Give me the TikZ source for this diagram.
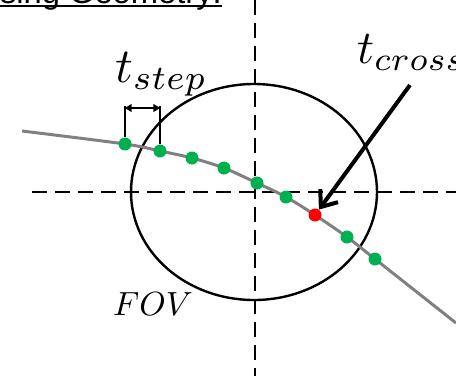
\documentclass[tikz,border=0pt]{standalone}
\usepackage{fontspec}
\setsansfont{Liberation Sans}
\usetikzlibrary{arrows.meta}
\definecolor{dotgreen}{HTML}{00B050}
\definecolor{dotred}{HTML}{FF0000}
\definecolor{pathgray}{HTML}{808080}

\begin{document}
\begin{tikzpicture}[
  x=1pt,
  y=-1pt,
  axis/.style={black, line width=2.6pt, dash pattern=on 15pt off 8pt},
  sample/.style={circle, fill=dotgreen, inner sep=0pt, minimum size=13pt},
  crossing/.style={sample, fill=dotred},
  bracket/.style={black, line width=2.6pt},
  every node/.style={inner sep=0pt}
]
  \useasboundingbox (0,0) rectangle (456,376);
  \clip (0,0) rectangle (456,376);

  % title, cut at the top edge
  \node[anchor=base east, font=\sffamily\fontsize{32.7}{38}\selectfont]
    (title) at (222,3) {Using Geometry:};
  \draw[line width=2pt] ([yshift=-2.5pt]title.base west) -- ([yshift=-2.5pt]title.base east);

  % axes and field of view
  \draw[axis] (255,0) -- (255,376);
  \draw[axis] (32,192) -- (456,192);
  \draw[black, line width=2.4pt] (254,192) ellipse [x radius=123, y radius=108];

  % trajectory
  \draw[pathgray, line width=3pt] plot[smooth] coordinates {
    (22,131) (125,144) (160,151) (192,158) (224,168) (257,183)
    (286,197) (315,215) (347,237) (375,259) (456,323)};

  \foreach \px/\py [count=\i] in {125/144, 160/151, 192/158, 224/168, 257/183,
                                   286/197, 347/237, 375/259}
    \node[sample] (p\i) at (\px,\py) {};
  \node[crossing] (pc) at (315,215) {};

  % step bracket
  \draw[bracket] (p1.north) -- (p1 |- 0,106);
  \draw[bracket] (p2.north) -- (p2 |- 0,106);
  \draw[bracket, {Latex[length=8pt,width=9pt]}-{Latex[length=8pt,width=9pt]}]
    ([xshift=-1.3pt]p1 |- 0,108) -- ([xshift=1.3pt]p2 |- 0,108);

  \node[anchor=base west] (tstep) at (115,82) {\scalebox{4.9}{$t_{step}$}};
  \node[anchor=base west] (tcross) at (357,63) {\scalebox{4.7}{$t_{cross}$}};
  \node[anchor=base west] (fov) at (113,315) {\scalebox{3.35}{$FOV$}};

  \coordinate (tail) at (410,85);
  \draw[black, line width=4pt, -{Straight Barb[length=14pt,width=22pt]}] (tail) -- (pc);
\end{tikzpicture}
\end{document}
